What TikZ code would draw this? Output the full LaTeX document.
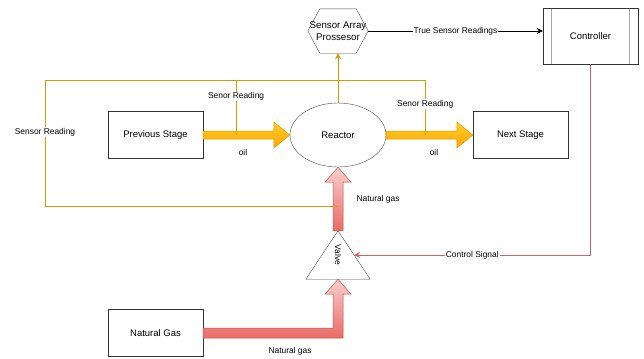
\documentclass[tikz,border=0pt]{standalone}
\usepackage{fontspec}
\usepackage{graphicx}
\setmainfont{Liberation Sans}
\usetikzlibrary{calc,arrows.meta,shapes.geometric}
\definecolor{oilhi}{RGB}{255,205,40}
\definecolor{oillo}{RGB}{255,165,0}
\definecolor{oilline}{RGB}{215,155,0}
\definecolor{gashi}{RGB}{248,206,204}
\definecolor{gaslo}{RGB}{234,107,102}
\definecolor{gasline}{RGB}{184,84,80}
\definecolor{ctlline}{RGB}{205,100,100}
\begin{document}
\begin{tikzpicture}[x=1pt,y=-1pt, every node/.style={font=\fontsize{8.4}{10}\selectfont,text=black},
  box/.style={draw=black!80,minimum width=95pt,minimum height=47pt,align=center,inner sep=0pt,font=\fontsize{9.5}{12}\selectfont},
  oilarrow/.style={top color=oilhi,bottom color=oillo,draw=oilline,line width=0.5pt},
  gasarrow/.style={top color=gashi,bottom color=gaslo,draw=gasline,line width=0.5pt},
  sense/.style={draw=oilline,line width=0.6pt},
  lbl/.style={fill=white,inner sep=1pt}]
\path[fill=white] (0,0) rectangle (644,358);
\node[box] (prev) at (155.5,135) {Previous Stage};
\node[box] (next) at (520.5,135) {Next Stage};
\node[box] (gas) at (155.5,333) {Natural Gas};
\node[box,minimum height=56pt] (ctrl) at (590.5,36) {Controller};
\node[draw=black!70,ellipse,minimum width=96pt,minimum height=64pt,inner sep=0pt,font=\fontsize{9.5}{12}\selectfont] (reactor) at (338,135) {Reactor};
\node[minimum width=60pt,minimum height=44pt,inner sep=0pt,align=center,font=\fontsize{9.7}{12}\selectfont] (proc) at (338,31) {Sensor Array\\Prossesor};
\node[minimum width=64pt,minimum height=48pt,inner sep=0pt] (valve) at (338,255) {\rotatebox{-90}{Valve}};
\draw[gray!70,line width=0.8pt] ($(ctrl.north west)+(9,0)$) -- ($(ctrl.south west)+(9,0)$);
\draw[gray!70,line width=0.8pt] ($(ctrl.north east)+(-9,0)$) -- ($(ctrl.south east)+(-9,0)$);
\draw[black!80] (ctrl.north west) rectangle (ctrl.south east);
\draw[black!70] ($(proc.north west)+(12,0)$) -- ($(proc.north east)+(-12,0)$) -- (proc.east) -- ($(proc.south east)+(-12,0)$) -- ($(proc.south west)+(12,0)$) -- (proc.west) -- cycle;
\draw[black!70] (valve.south west) -- (valve.north) -- (valve.south east) -- cycle;
\shadedraw[oilarrow] ($(prev.east)+(0,-4)$) -- ($(reactor.west)+(-16,-4)$) -- ($(reactor.west)+(-16,-13)$) -- (reactor.west) -- ($(reactor.west)+(-16,13)$) -- ($(reactor.west)+(-16,4)$) -- ($(prev.east)+(0,4)$) -- cycle;
\shadedraw[oilarrow] ($(reactor.east)+(0,-4)$) -- ($(next.west)+(-16,-4)$) -- ($(next.west)+(-16,-13)$) -- (next.west) -- ($(next.west)+(-16,13)$) -- ($(next.west)+(-16,4)$) -- ($(reactor.east)+(0,4)$) -- cycle;
\shadedraw[gasarrow] ($(valve.north)+(-5,0)$) -- ($(reactor.south)+(-5,15)$) -- ($(reactor.south)+(-13,15)$) -- (reactor.south) -- ($(reactor.south)+(13,15)$) -- ($(reactor.south)+(5,15)$) -- ($(valve.north)+(5,0)$) -- cycle;
\coordinate (bend) at (valve.south |- gas.east);
\shadedraw[gasarrow] ($(gas.east)+(0,-5)$) -- ($(bend)+(-5,-5)$) -- ($(valve.south)+(-5,15)$) -- ($(valve.south)+(-13,15)$) -- (valve.south) -- ($(valve.south)+(13,15)$) -- ($(valve.south)+(5,15)$) -- ($(bend)+(5,5)$) -- ($(gas.east)+(0,5)$) -- cycle;
\node at (243,152) {oil};
\node at (434,152) {oil};
\node at (378,199) {Natural gas};
\node at (290,351) {Natural gas};
\coordinate (tap1) at ($(prev.east)!0.38!(reactor.west)$);
\coordinate (tap2) at ($(reactor.east)!0.45!(next.west)$);
\coordinate (tap3) at ($(valve.north)!0.38!(reactor.south)$);
\coordinate (hub) at (338,80);
\coordinate (loop) at (45,80);
\draw[sense] (tap1) |- node[lbl,pos=0.35] {Senor Reading} (hub);
\draw[sense] (tap2) |- node[lbl,pos=0.28] {Senor Reading} (hub);
\draw[sense] (tap3) -- (tap3 -| loop) -- node[lbl,pos=0.59] {Sensor Reading} (loop) -- (hub);
\draw[sense,-{Stealth[length=6pt,width=6pt]}] (reactor.north) -- (proc.south);
\draw[black,line width=0.6pt,-{Stealth[length=6pt,width=6pt]}] (proc.east) -- node[lbl] {True Sensor Readings} (proc.east -| ctrl.west);
\coordinate (vin) at ($(valve.north)!0.5!(valve.south east)$);
\draw[draw=ctlline,line width=0.7pt,-{Stealth[length=6pt,width=6pt]}] (ctrl.south) |- node[lbl,pos=0.75] {Control Signal} (vin);
\end{tikzpicture}
\end{document}
